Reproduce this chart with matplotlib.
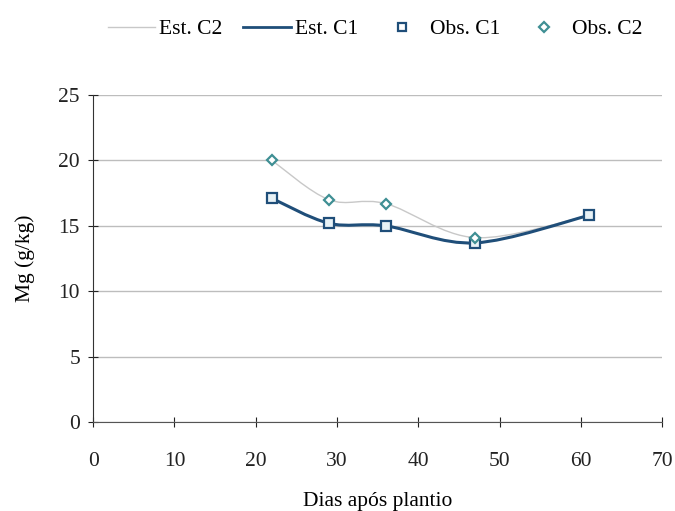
import matplotlib.pyplot as plt
from matplotlib.path import Path
from matplotlib.patches import PathPatch
from matplotlib.lines import Line2D

plt.rcParams['font.family'] = ['Liberation Serif', 'DejaVu Serif']

# dados
dias = [22, 29, 36, 47, 61]
obs_c1 = [17.1, 15.2, 15.0, 13.7, 15.8]
obs_c2 = [20.0, 17.0, 16.7, 14.1, 15.8]

navy = '#1f4e79'
teal = '#3f8f94'
cinza = '#c8c8c8'


def suave(x, y, t=1/6):
    # linha suavizada tipo Excel (bezier pelos pontos)
    verts = [(x[0], y[0])]
    codes = [Path.MOVETO]
    n = len(x)
    for i in range(n - 1):
        x0, y0 = (x[i - 1], y[i - 1]) if i > 0 else (x[i], y[i])
        x3, y3 = (x[i + 2], y[i + 2]) if i + 2 < n else (x[i + 1], y[i + 1])
        c1 = (x[i] + (x[i + 1] - x0) * t, y[i] + (y[i + 1] - y0) * t)
        c2 = (x[i + 1] - (x3 - x[i]) * t, y[i + 1] - (y3 - y[i]) * t)
        verts += [c1, c2, (x[i + 1], y[i + 1])]
        codes += [Path.CURVE4] * 3
    return Path(verts, codes)


fig = plt.figure(figsize=(6.75, 5.11), dpi=100)
ax = fig.add_axes([0.138, 0.174, 0.843, 0.640])

ax.add_patch(PathPatch(suave(dias, obs_c2), fill=False, color=cinza, lw=1.0, zorder=2))
ax.add_patch(PathPatch(suave(dias, obs_c1), fill=False, color=navy, lw=2.2, zorder=3))
ax.plot(dias, obs_c1, 's', ms=7, mfc='#e8f2f6', mec=navy, mew=1.6, zorder=4)
ax.plot(dias[:4], obs_c2[:4], 'D', ms=5.5, mfc='white', mec=teal, mew=1.6, zorder=5)

ax.set_xlim(0, 70)
ax.set_ylim(0, 25)
ax.set_xticks(range(0, 71, 10))
ax.set_yticks(range(0, 26, 5))
ax.grid(axis='y', color='#bdbdbd', lw=1)
ax.set_axisbelow(True)
for s in ['top', 'right']:
    ax.spines[s].set_visible(False)
ax.spines['left'].set_color('#333333')
ax.spines['bottom'].set_color('#555555')
ax.tick_params(axis='both', labelsize=15.5, direction='inout', length=7, colors='#222222')
ax.tick_params(axis='x', pad=18)
ax.tick_params(axis='y', pad=6)
ax.set_xlabel('Dias após plantio', fontsize=15.5, labelpad=15)
ax.set_ylabel('Mg (g/kg)', fontsize=15.5, labelpad=17)

handles = [
    Line2D([], [], color=cinza, lw=1),
    Line2D([], [], color=navy, lw=2),
    Line2D([], [], ls='none', marker='s', ms=6, mfc='white', mec=navy, mew=1.6),
    Line2D([], [], ls='none', marker='D', ms=5, mfc='white', mec=teal, mew=1.6),
]
fig.legend(handles, ['Est. C2', 'Est. C1', 'Obs. C1', 'Obs. C2'], loc='center',
           bbox_to_anchor=(0.556, 0.943), ncol=4, frameon=False, fontsize=15.5,
           handlelength=2.2, handletextpad=0.2, columnspacing=0.95)

fig.savefig('out.png', dpi=100)
